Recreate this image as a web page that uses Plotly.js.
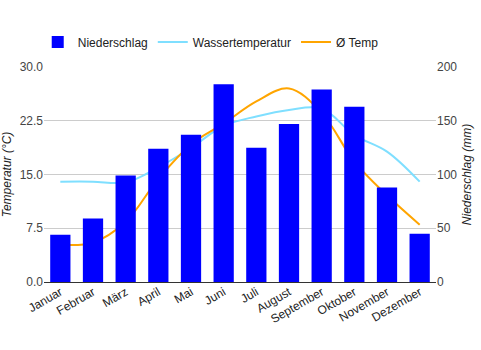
<!DOCTYPE html>
<html><head><meta charset="utf-8">
<script src="https://cdn.plot.ly/plotly-3.0.1.min.js"></script>
<style>html,body{margin:0;padding:0;background:#fff}#chart{width:481px;height:350px}</style>
</head><body><div id="chart"></div>
<script>
const months = ["Januar","Februar","März","April","Mai","Juni","Juli","August","September","Oktober","November","Dezember"];
const niederschlag = [44, 59, 99, 124, 137, 184, 125, 147, 179, 163, 88, 45];
const wassertemperatur = [14.0, 14.0, 13.9, 16.0, 18.7, 21.8, 23.1, 24.0, 24.2, 20.5, 18.2, 14.0];
const avgTemp = [5.2, 5.5, 8.4, 14.4, 19.2, 22.1, 25.2, 27.0, 23.6, 16.8, 12.1, 8.0];

const font = {family: "Liberation Sans, Arial, sans-serif", size: 12, color: "#444"};
const data = [
  {type: "bar", name: "Niederschlag", x: months, y: niederschlag, yaxis: "y2",
   marker: {color: "#0000ff"}},
  {type: "scatter", mode: "lines", name: "Wassertemperatur", x: months, y: wassertemperatur,
   line: {color: "#7fdfff", width: 2, shape: "spline", smoothing: 1}},
  {type: "scatter", mode: "lines", name: "Ø Temp", x: months, y: avgTemp,
   line: {color: "#ffa500", width: 2, shape: "spline", smoothing: 1}}
];
const layout = {
  width: 481, height: 350,
  margin: {l: 44, r: 45, t: 67, b: 68},
  paper_bgcolor: "#fff", plot_bgcolor: "#fff",
  font: font,
  bargap: 0.38,
  showlegend: true,
  legend: {orientation: "h", x: -0.016, xanchor: "left", y: 1.116, yanchor: "middle",
           traceorder: "normal", font: {family: font.family, size: 12, color: "#222"}},
  xaxis: {type: "category", tickangle: -30, tickfont: {size: 12, color: "#222"},
          showgrid: false, showline: false, ticks: "", zeroline: false},
  yaxis: {range: [0, 30], tickvals: [0, 7.5, 15, 22.5, 30], ticktext: ["0.0","7.5","15.0","22.5","30.0"],
          gridcolor: "#cccccc", zeroline: true, zerolinecolor: "#333", zerolinewidth: 1,
          tickfont: {size: 12, color: "#444"},
          title: {text: "Temperatur (°C)", font: {size: 12, color: "#222", style: "italic"}, standoff: 6}},
  yaxis2: {range: [0, 200], tickvals: [0, 50, 100, 150, 200], overlaying: "y", side: "right",
           showgrid: false, zeroline: false, tickfont: {size: 12, color: "#444"},
           title: {text: "Niederschlag (mm)", font: {size: 12, color: "#222", style: "italic"}, standoff: 6}}
};
Plotly.newPlot("chart", data, layout, {displayModeBar: false, staticPlot: true});
</script></body></html>
